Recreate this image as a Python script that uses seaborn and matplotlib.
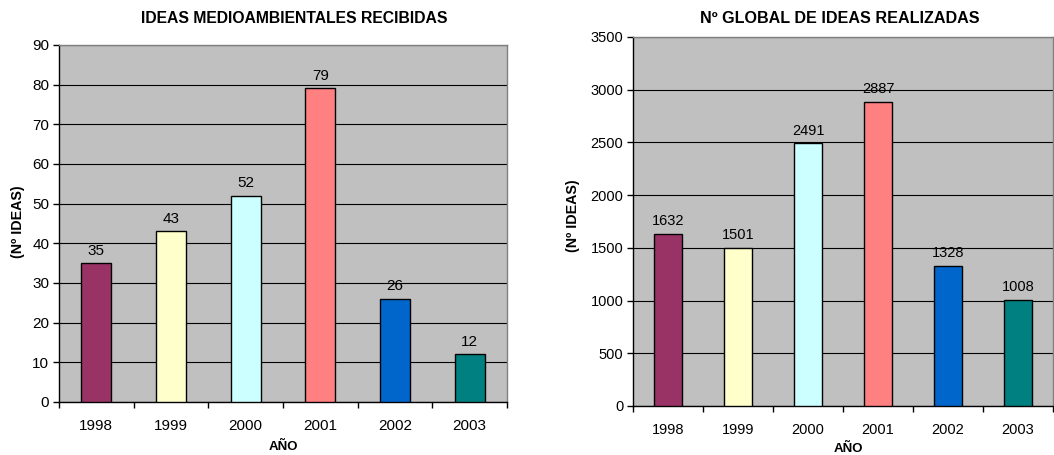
import numpy as np
import pandas as pd
import matplotlib
matplotlib.use("Agg")
import matplotlib.pyplot as plt
import seaborn as sns

# datos
years = ["1998", "1999", "2000", "2001", "2002", "2003"]
ideas_medioambientales = [35, 43, 52, 79, 26, 12]
ideas_realizadas = [1632, 1501, 2491, 2887, 1328, 1008]
bar_colors = ["#993366", "#FFFFCC", "#CCFFFF", "#FF8080", "#0066CC", "#008080"]

titles = ["IDEAS MEDIOAMBIENTALES RECIBIDAS", "Nº GLOBAL DE IDEAS REALIZADAS"]
ylims = [(0, 90), (0, 3500)]
ysteps = [10, 500]
fsizes = [11, 10.5]

sns.set_style("white")
plt.rcParams["font.family"] = ["Liberation Sans", "DejaVu Sans"]
plt.rcParams["text.color"] = "black"
plt.rcParams["xtick.color"] = "black"
plt.rcParams["ytick.color"] = "black"
plt.rcParams["xtick.bottom"] = True
plt.rcParams["ytick.left"] = True

fig = plt.figure(figsize=(10.54, 4.55), dpi=100)
ax1 = fig.add_axes([0.056, 0.1165, 0.425, 0.785])
ax2 = fig.add_axes([0.6006, 0.1077, 0.3985, 0.811])

for ax, vals, ylim, step, fs in zip(
    [ax1, ax2], [ideas_medioambientales, ideas_realizadas], ylims, ysteps, fsizes
):
    df = pd.DataFrame({"year": years, "value": vals})
    sns.barplot(
        data=df, x="year", y="value", hue="year", palette=bar_colors,
        saturation=1, width=0.4, edgecolor="black", linewidth=1.0,
        legend=False, ax=ax, zorder=3,
    )
    ax.set_facecolor("#C0C0C0")
    ax.set_ylim(*ylim)
    ax.set_xlim(-0.5, len(years) - 0.5)
    ax.set_yticks(np.arange(ylim[0], ylim[1] + step, step))
    ax.yaxis.grid(True, color="black", linewidth=0.8, zorder=0)
    ax.set_axisbelow(True)
    ax.set_xlabel("")
    ax.set_ylabel("")

    # ticks estilo excel: marcas entre categorias
    ax.set_xticks(range(len(years)))
    ax.set_xticklabels(years)
    ax.set_xticks(np.arange(-0.5, len(years), 1.0), minor=True)
    ax.tick_params(axis="x", which="major", bottom=True, length=0, labelsize=fs, pad=12)
    ax.tick_params(axis="x", which="minor", bottom=True, length=4, width=1,
                   color="black", direction="out")
    ax.tick_params(axis="y", which="major", left=True, length=4, width=1,
                   color="black", direction="out", labelsize=fs, pad=3)

    for s in ["left", "bottom"]:
        ax.spines[s].set_color("black")
        ax.spines[s].set_linewidth(1)
    for s in ["top", "right"]:
        ax.spines[s].set_color("#808080")
        ax.spines[s].set_linewidth(1)

    for cont in ax.containers:
        ax.bar_label(cont, padding=4, fontsize=fs, color="black")

# titulos y etiquetas
fig.text(0.279, 0.960, titles[0], ha="center", va="center", fontsize=11.3, fontweight="bold")
fig.text(0.797, 0.960, titles[1], ha="center", va="center", fontsize=11.6, fontweight="bold")
fig.text(0.269, 0.018, "AÑO", ha="center", va="center", fontsize=9.5, fontweight="bold")
fig.text(0.805, 0.013, "AÑO", ha="center", va="center", fontsize=9.5, fontweight="bold")
fig.text(0.017, 0.512, "(Nº IDEAS)", ha="center", va="center", rotation=90, fontsize=10.3, fontweight="bold")
fig.text(0.544, 0.525, "(Nº IDEAS)", ha="center", va="center", rotation=90, fontsize=10.3, fontweight="bold")

fig.savefig("out.png", dpi=100)
